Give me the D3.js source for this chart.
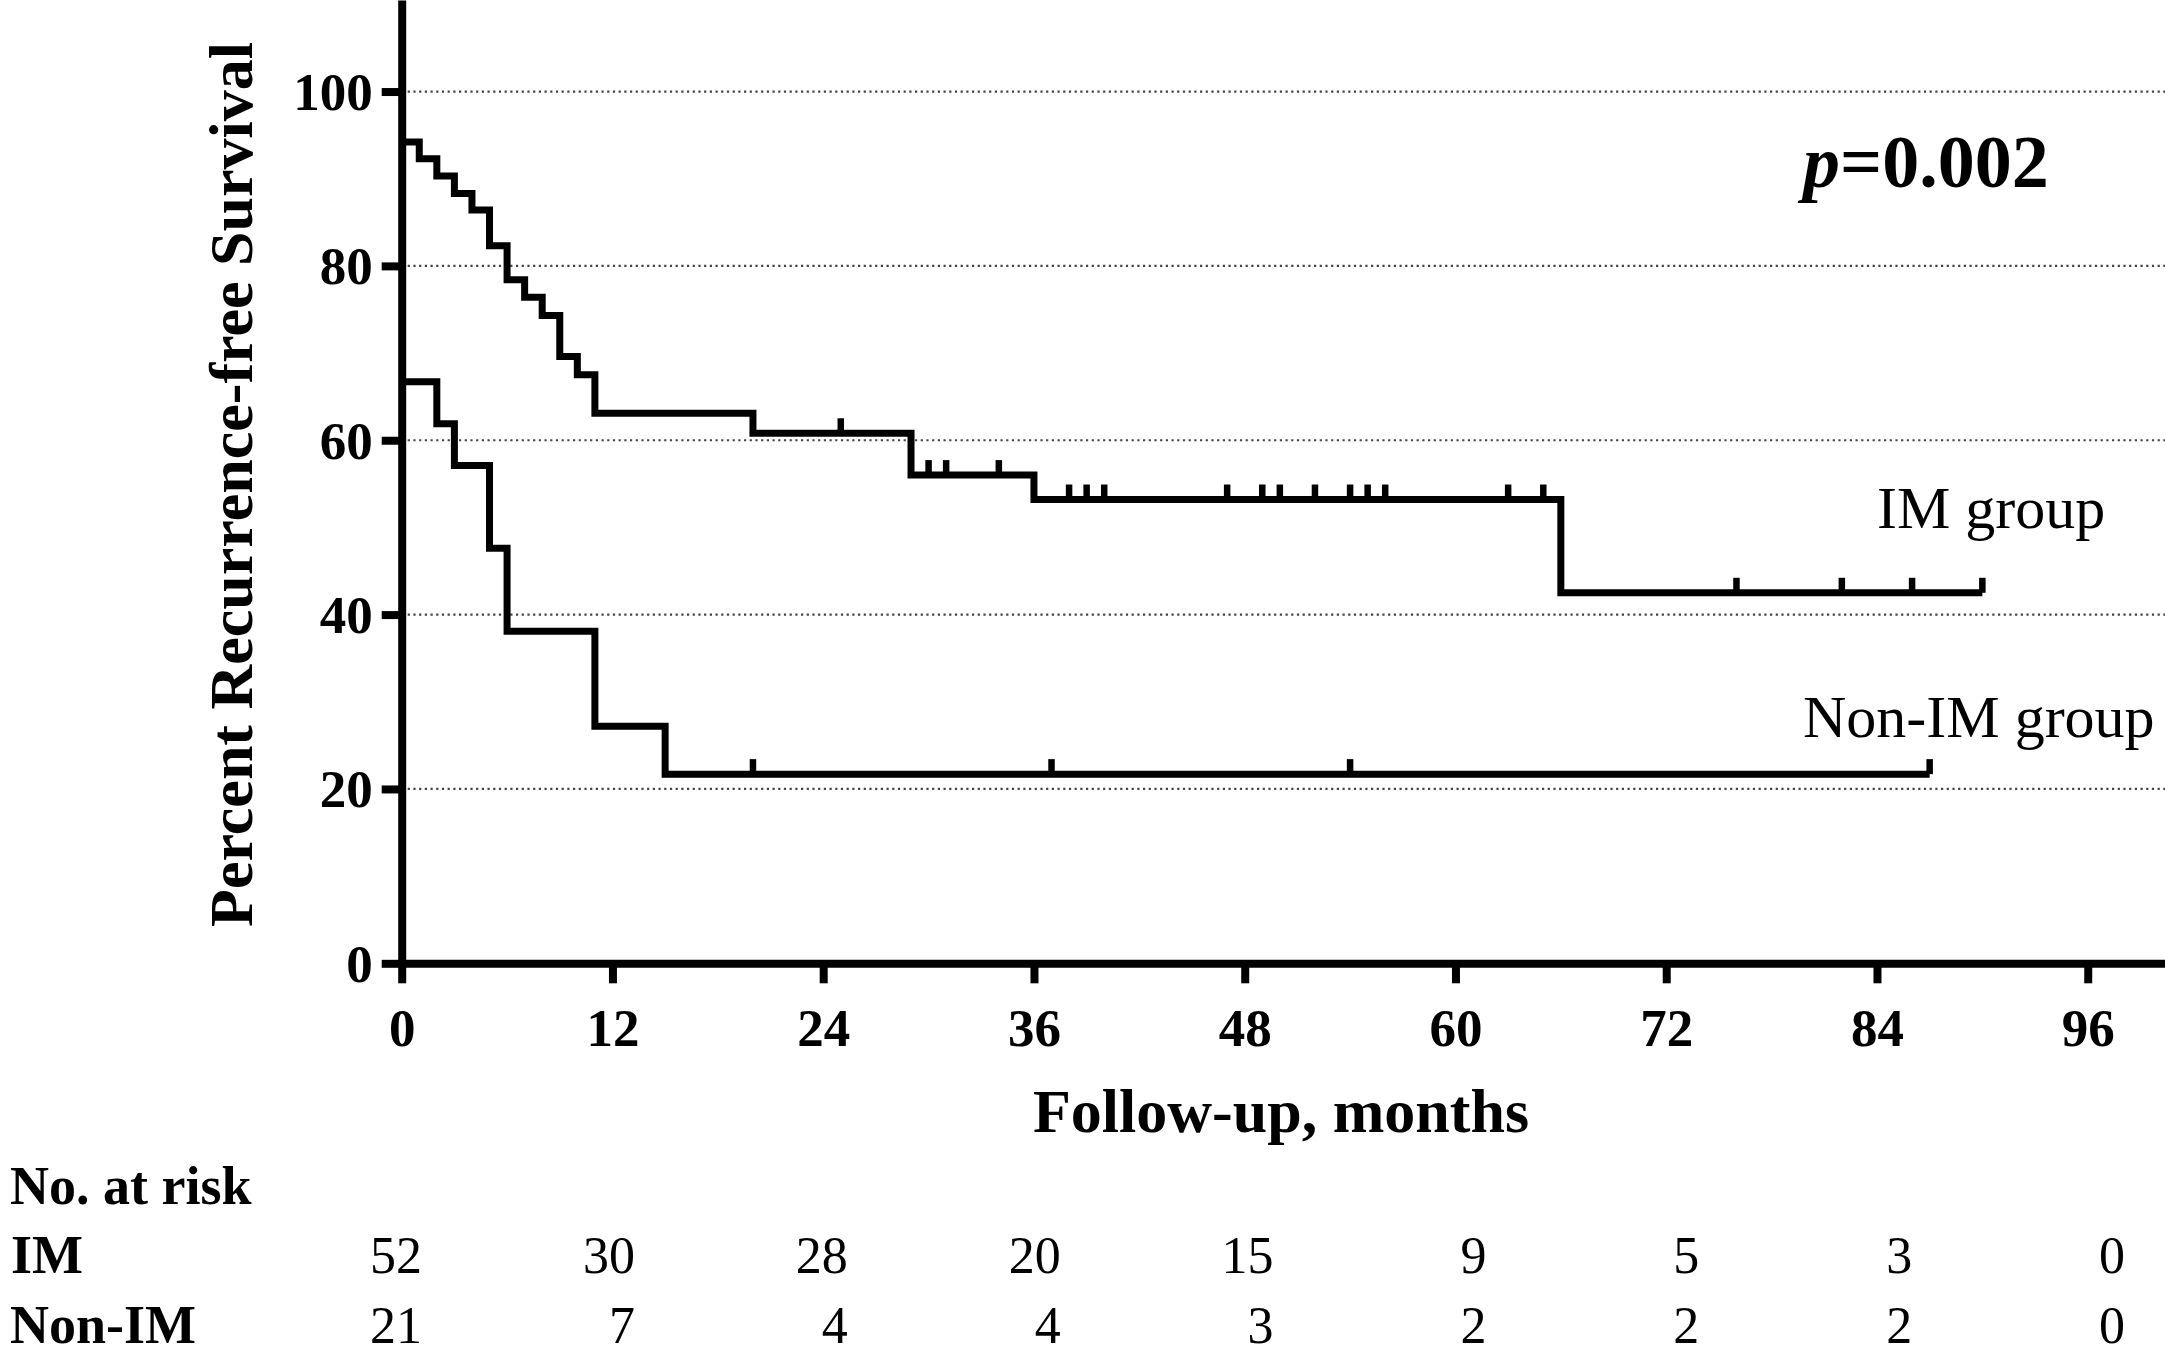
<!DOCTYPE html>
<html>
<head>
<meta charset="utf-8">
<script src="https://cdn.jsdelivr.net/npm/d3@7"></script>
<style>
  body { margin: 0; background: #fff; }
  svg text { font-family: "Liberation Serif", "Times New Roman", serif; fill: #000; }
</style>
</head>
<body>
<svg id="chart" width="2165" height="1363"></svg>
<script>
// IM group: times where the curve steps, and level after each step (%)
const imTimes = [0, 1, 2, 3, 4, 5, 6, 7, 8, 9, 10, 11, 20, 29, 36, 66, 90];
const imSurv = [94.2, 92.3, 90.3, 88.3, 86.4, 82.3, 78.4, 76.4, 74.3, 69.6, 67.5, 63.1, 60.8, 56.0, 53.2, 42.5, 42.5];
const imCensor = [25, 30, 31, 34, 38, 39, 40, 47, 49, 50, 52, 54, 55, 56, 63, 65, 76, 82, 86, 90];

// Non-IM group
const nonTimes = [0, 2, 3, 5, 6, 11, 15, 87];
const nonSurv = [66.7, 61.9, 57.1, 47.6, 38.1, 27.2, 21.7, 21.7];
const nonCensor = [20, 37, 54, 87];

const xTicks = [0, 12, 24, 36, 48, 60, 72, 84, 96];
const yTicks = [0, 20, 40, 60, 80, 100];
const gridTicks = [20, 40, 60, 80, 100];

// number at risk
const riskTimes = [0, 12, 24, 36, 48, 60, 72, 84, 96];
const riskIM = [52, 30, 28, 20, 15, 9, 5, 3, 0];
const riskNon = [21, 7, 4, 4, 3, 2, 2, 2, 0];

let svg = d3.select("#chart"),
    width = +svg.attr("width"),
    height = +svg.attr("height");

let x0 = 401.7, y0 = 963.3;

let xScale = d3.scaleLinear().domain([0, 100.4]).range([x0, width]);
let yScale = d3.scaleLinear().domain([0, 110.5]).range([y0, 0]);
let riskX = d3.scaleLinear().domain([0, 96]).range([422, 2125]);

// dotted gridlines
svg.append("g").selectAll("line")
  .data(gridTicks)
  .enter().append("line")
  .attr("x1", x0 + 6).attr("x2", width)
  .attr("y1", d => yScale(d)).attr("y2", d => yScale(d))
  .attr("stroke", "#444").attr("stroke-width", 2.2)
  .attr("stroke-dasharray", "2.2,3.5");

// axes
let xAxis = svg.append("g")
  .attr("transform", `translate(0,${y0})`)
  .call(d3.axisBottom(xScale).tickValues(xTicks).tickSize(20).tickSizeOuter(0));
let yAxis = svg.append("g")
  .attr("transform", `translate(${x0},0)`)
  .call(d3.axisLeft(yScale).tickValues(yTicks).tickSize(20).tickSizeOuter(0));

[xAxis, yAxis].forEach(a => {
  a.select(".domain").attr("stroke", "#000").attr("stroke-width", 8);
  a.selectAll(".tick line").attr("stroke", "#000").attr("stroke-width", 8);
  a.selectAll(".tick text")
    .attr("font-family", "Liberation Serif, Times New Roman, serif")
    .attr("font-weight", "bold").attr("font-size", 53).attr("fill", "#000");
});
xAxis.selectAll(".tick text").attr("y", 83).attr("dy", 0);
yAxis.selectAll(".tick text").attr("x", -29).attr("dy", "0.34em");

// survival step curves
let line = d3.line()
  .x(d => xScale(d[0]))
  .y(d => yScale(d[1]))
  .curve(d3.curveStepAfter);

function levelAt(times, surv, t) {
  let v = surv[0];
  times.forEach((tt, i) => { if (tt <= t) v = surv[i]; });
  return v;
}

function drawCurve(times, surv, censor) {
  let pts = times.map((t, i) => [t, surv[i]]);
  svg.append("path")
    .attr("d", line(pts))
    .attr("fill", "none").attr("stroke", "#000")
    .attr("stroke-width", 7).attr("stroke-linejoin", "miter");
  svg.append("g").selectAll("line")
    .data(censor)
    .enter().append("line")
    .attr("x1", d => xScale(d)).attr("x2", d => xScale(d))
    .attr("y1", d => yScale(levelAt(times, surv, d)))
    .attr("y2", d => yScale(levelAt(times, surv, d)) - 15)
    .attr("stroke", "#000").attr("stroke-width", 6.5);
}

drawCurve(imTimes, imSurv, imCensor);
drawCurve(nonTimes, nonSurv, nonCensor);

// labels
svg.append("text")
  .attr("transform", "translate(252,484.5) rotate(-90)")
  .attr("text-anchor", "middle")
  .attr("font-weight", "bold").attr("font-size", 62)
  .text("Percent Recurrence-free Survival");

svg.append("text")
  .attr("x", 1281).attr("y", 1132)
  .attr("text-anchor", "middle")
  .attr("font-weight", "bold").attr("font-size", 62)
  .text("Follow-up, months");

let pText = svg.append("text")
  .attr("x", 1803).attr("y", 187)
  .attr("font-weight", "bold").attr("font-size", 74);
pText.append("tspan").attr("font-style", "italic").text("p");
pText.append("tspan").text("=0.002");

svg.append("text").attr("x", 1877).attr("y", 528)
  .attr("font-size", 60).text("IM group");
svg.append("text").attr("x", 1803).attr("y", 737)
  .attr("font-size", 60).text("Non-IM group");

// number-at-risk table
svg.append("text").attr("x", 10).attr("y", 1204)
  .attr("font-weight", "bold").attr("font-size", 54).text("No. at risk");
svg.append("text").attr("x", 11).attr("y", 1273)
  .attr("font-weight", "bold").attr("font-size", 54).text("IM");
svg.append("text").attr("x", 10).attr("y", 1343)
  .attr("font-weight", "bold").attr("font-size", 54).text("Non-IM");

function riskRow(values, y) {
  svg.append("g").selectAll("text")
    .data(values)
    .enter().append("text")
    .attr("x", (d, i) => riskX(riskTimes[i]))
    .attr("y", y)
    .attr("text-anchor", "end")
    .attr("font-size", 52)
    .text(d => d);
}
riskRow(riskIM, 1273);
riskRow(riskNon, 1343);
</script>
</body>
</html>
